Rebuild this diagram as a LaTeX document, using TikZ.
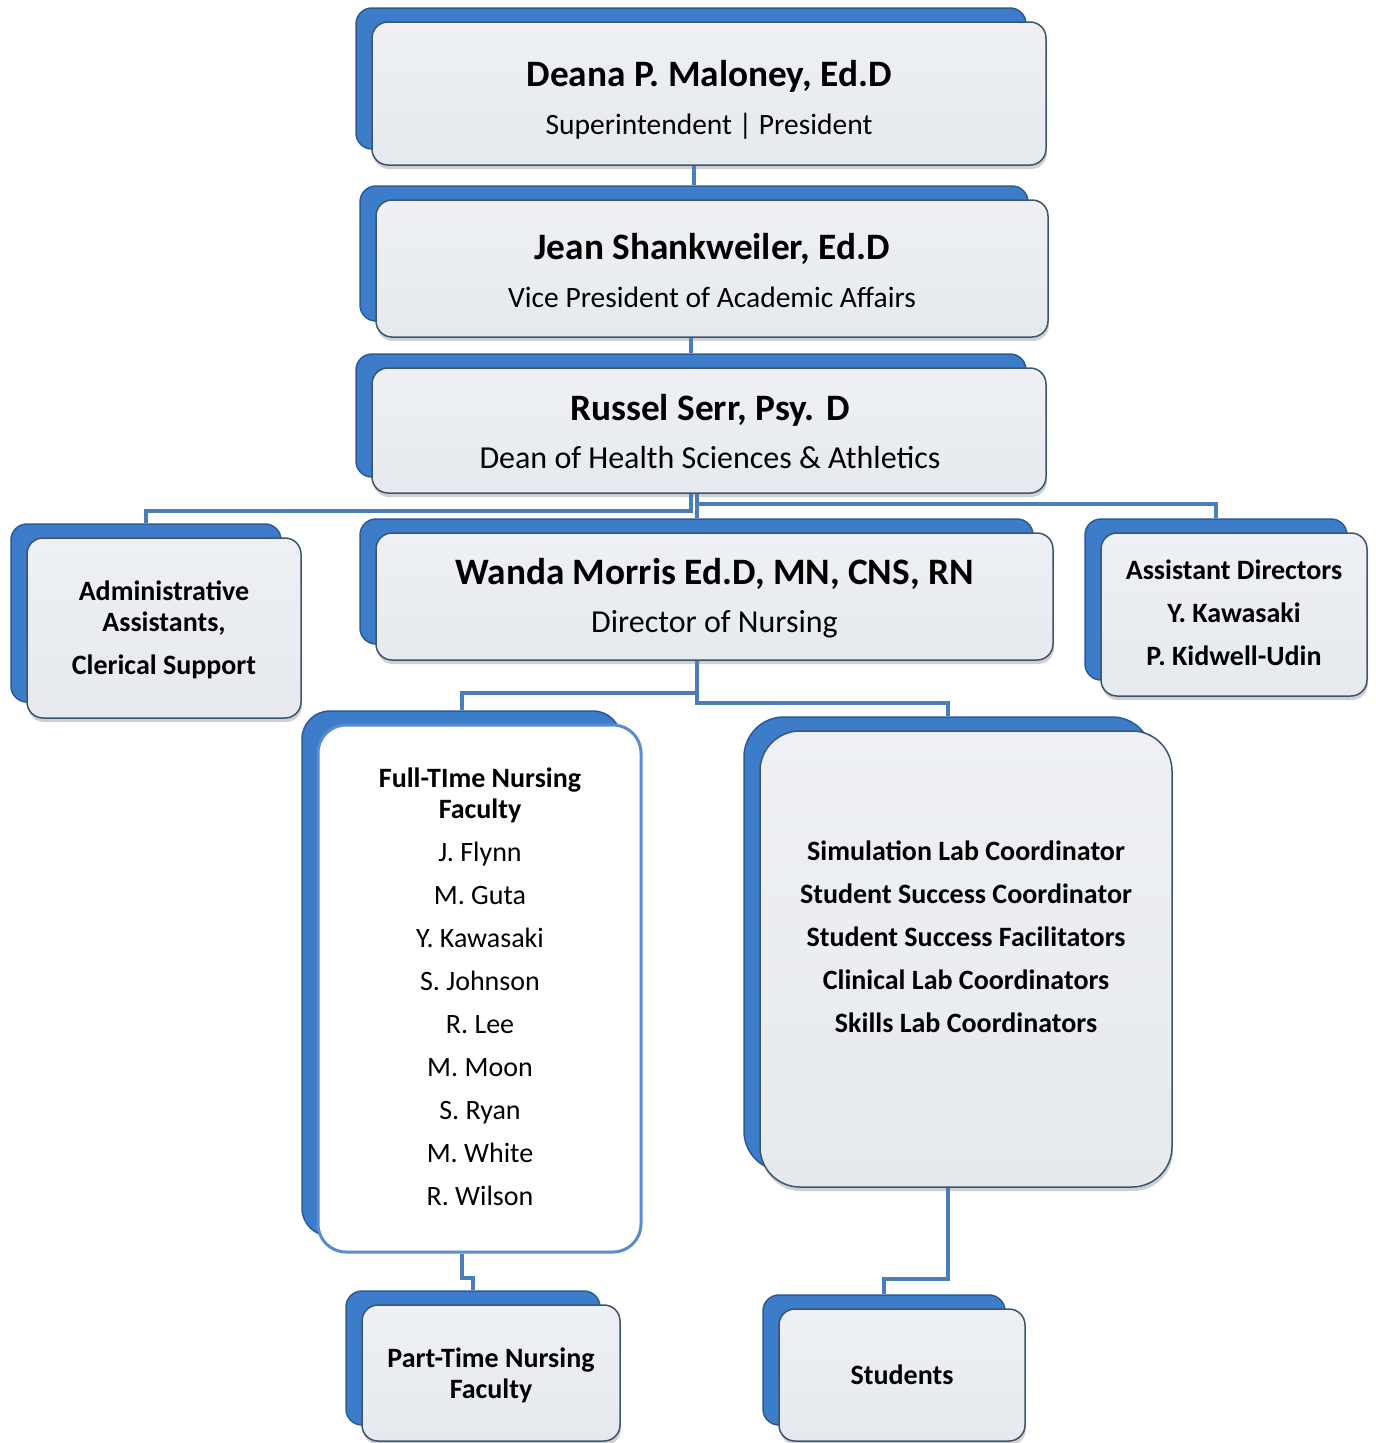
\documentclass[tikz,border=0pt]{standalone}
\usepackage{fontspec}
\setmainfont{Carlito}
\usetikzlibrary{calc,shadows}
\definecolor{backblue}{HTML}{3D7CC9}
\definecolor{backedge}{HTML}{2A5B98}
\definecolor{frontfill}{HTML}{E6E9EE}
\definecolor{fronttop}{HTML}{EEF0F4}
\definecolor{frontedge}{HTML}{3E5572}
\definecolor{linkblue}{HTML}{4A7DBA}
\definecolor{fulledge}{HTML}{5A8BD0}
\begin{document}
\begin{tikzpicture}[x=1pt,y=-1pt,
  backbox/.style={draw=backedge,line width=1.5pt,fill=backblue,rounded corners=16pt,inner sep=0pt},
  frontbox/.style={draw=frontedge,line width=1.5pt,top color=fronttop,bottom color=frontfill,rounded corners=16pt,inner sep=0pt,
    drop shadow={shadow xshift=1pt,shadow yshift=-4pt,opacity=0.3,fill=black!60}},
  fullbox/.style={draw=fulledge,line width=3pt,fill=white,rounded corners=28pt,inner sep=0pt},
  link/.style={draw=linkblue,line width=4pt},
  txt/.style={align=center,inner sep=0pt,font=\fontsize{28}{43}\selectfont},
  headtxt/.style={align=center,inner sep=0pt,font=\fontsize{29.5}{48}\selectfont},
  headtxtb/.style={align=center,inner sep=0pt,font=\fontsize{32}{48}\selectfont}]
\useasboundingbox[fill=white] (0,0) rectangle (1376,1443);

% ---------- boxes ----------
\node[backbox,minimum width=670pt,minimum height=141pt] (deanaB) at (691,78.5) {};
\node[frontbox,minimum width=674pt,minimum height=143pt] (deana) at (709,93.5) {};

\node[backbox,minimum width=668pt,minimum height=135pt] (jeanB) at (694,253.5) {};
\node[frontbox,minimum width=672pt,minimum height=137pt] (jean) at (712,268.5) {};

\node[backbox,minimum width=670pt,minimum height=123pt] (russelB) at (691,415.5) {};
\node[frontbox,minimum width=674pt,minimum height=125pt] (russel) at (709,430.5) {};

\node[backbox,minimum width=270pt,minimum height=178pt] (adminB) at (146,613) {};
\node[frontbox,minimum width=274pt,minimum height=180pt] (admin) at (164,628) {};

\node[backbox,minimum width=673pt,minimum height=125pt] (wandaB) at (696.5,581.5) {};
\node[frontbox,minimum width=677pt,minimum height=127pt] (wanda) at (714.5,596.5) {};

\node[backbox,minimum width=262pt,minimum height=161pt] (asstB) at (1216,599.5) {};
\node[frontbox,minimum width=266pt,minimum height=163pt] (asst) at (1234,614.5) {};

\node[backbox,rounded corners=28pt,minimum width=319pt,minimum height=525pt] (fullB) at (461.5,973.5) {};
\node[fullbox,minimum width=323pt,minimum height=527pt] (full) at (479.5,988.5) {};

\node[backbox,rounded corners=40pt,minimum width=408pt,minimum height=454pt] (simB) at (948,944) {};
\node[frontbox,rounded corners=40pt,minimum width=412pt,minimum height=456pt] (sim) at (966,959) {};

\node[backbox,minimum width=254pt,minimum height=134pt] (partB) at (473,1358) {};
\node[frontbox,minimum width=258pt,minimum height=136pt] (part) at (491,1373) {};

\node[backbox,minimum width=242pt,minimum height=130pt] (studentsB) at (884,1360) {};
\node[frontbox,minimum width=246pt,minimum height=132pt] (students) at (902,1375) {};

% ---------- connectors ----------
\draw[link] (deana.south -| jeanB.north) -- (jeanB.north);
\draw[link] (jean.south -| russelB.north) -- (russelB.north);
\draw[link] (russel.south -| russelB.north) -- ++(0,17) -| (adminB.north);
\draw[link] (russel.south -| wandaB.north) -- (wandaB.north);
\draw[link] (russel.south -| wandaB.north) -- ++(0,10) -| (asstB.north);
\draw[link] (wanda.south -| wandaB.north) -- ++(0,32) -| (fullB.north);
\draw[link] (wanda.south -| wandaB.north) -- ++(0,42) -| (simB.north);
\draw[link] (full.south -| fullB.north) -- ++(0,24) -| (partB.north);
\draw[link] (sim.south -| simB.north) -- ++(0,91) -| (studentsB.north);

% ---------- texts ----------
\node[headtxt] (deanaT) at (709,100) {{\fontsize{37.3}{48}\selectfont\bfseries Deana P. Maloney, Ed.D}\\Superintendent | President};
\node[headtxt] (jeanT) at (712,271) {{\fontsize{37.3}{48}\selectfont\bfseries Jean Shankweiler, Ed.D}\\Vice President of Academic Affairs};
\node[headtxtb] (russelT) at (710,432) {{\fontsize{37.3}{48}\selectfont\bfseries Russel Serr, Psy. D}\\Dean of Health Sciences \& Athletics};
\node[headtxtb] (wandaT) at (714.5,598) {{\fontsize{37.3}{48}\selectfont\bfseries Wanda Morris Ed.D, MN, CNS, RN}\\Director of Nursing};
\node[txt,font=\fontsize{28}{43}\selectfont\bfseries] (adminT) at (164,630) {Administrative\\[-12pt]Assistants,\\Clerical Support};
\node[txt,font=\fontsize{28}{43}\selectfont\bfseries] (asstT) at (1234,613) {Assistant Directors\\Y. Kawasaki\\P. Kidwell-Udin};
\node[txt] (fullT) at (480,987) {{\bfseries Full-TIme Nursing}\\[-12pt]{\bfseries Faculty}\\J. Flynn\\M. Guta\\Y. Kawasaki\\S. Johnson\\R. Lee\\M. Moon\\S. Ryan\\M. White\\R. Wilson};
\node[txt,font=\fontsize{28}{43}\selectfont\bfseries] (simT) at (966,936.5) {Simulation Lab Coordinator\\Student Success Coordinator\\Student Success Facilitators\\Clinical Lab Coordinators\\Skills Lab Coordinators};
\node[txt,font=\fontsize{28}{31}\selectfont\bfseries] (partT) at (491,1375.5) {Part-Time Nursing\\Faculty};
\node[txt,font=\fontsize{28}{43}\selectfont\bfseries] (studentsT) at (902,1375) {Students};
\end{tikzpicture}
\end{document}
